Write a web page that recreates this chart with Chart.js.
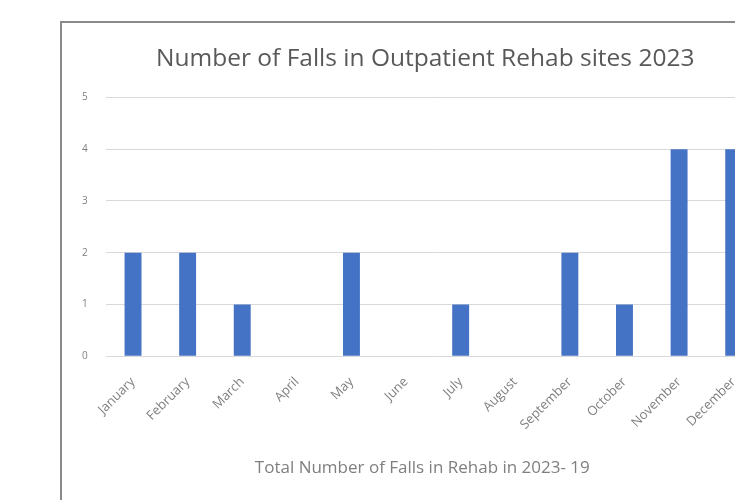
<!DOCTYPE html>
<html>
<head>
<meta charset="utf-8">
<script src="https://cdn.jsdelivr.net/npm/chart.js@4"></script>
<style>
  body { margin: 0; background: #fff; overflow: hidden; width: 735px; height: 500px; }
  #frame {
    position: absolute; left: 60px; top: 21px;
    width: 730px; height: 490px;
    border: 2px solid #8a8a8a; background: #fff;
  }
  #wrap { position: relative; width: 730px; height: 490px; }
</style>
</head>
<body>
<div id="frame"><div id="wrap"><canvas id="fallsChart"></canvas></div></div>
<script>
const months = ['January', 'February', 'March', 'April', 'May', 'June',
    'July', 'August', 'September', 'October', 'November', 'December'];
const falls = [2, 2, 1, 0, 2, 0, 1, 0, 2, 1, 4, 4];
const yTicks = [0, 1, 2, 3, 4, 5];

const ctx = document.getElementById('fallsChart');

// leading / trailing spaces nudge the centred titles to where the original sits
new Chart(ctx, {
    type: 'bar',
    data: {
        labels: months,
        datasets: [{
            label: 'Falls',
            data: falls,
            backgroundColor: '#4472C4',
            borderWidth: 0,
            barPercentage: 0.31,
            categoryPercentage: 1
        }]
    },
    options: {
        responsive: true,
        maintainAspectRatio: false,
        animation: false,
        layout: {
            padding: { top: 21, right: 31, bottom: 31, left: 2 }
        },
        plugins: {
            legend: { display: false },
            tooltip: { enabled: false },
            title: {
                display: true,
                text: '    Number of Falls in Outpatient Rehab sites 2023',
                color: '#595959',
                font: { family: 'Open Sans', size: 24.5, weight: 'normal' },
                padding: { top: 0, bottom: 24 }
            }
        },
        scales: {
            x: {
                grid: { display: false },
                border: { display: false },
                ticks: {
                    color: '#7f7f7f',
                    font: { family: 'Open Sans', size: 13 },
                    minRotation: 45,
                    maxRotation: 45,
                    padding: 10
                },
                title: {
                    display: true,
                    text: 'Total Number of Falls in Rehab in 2023- 19     ',
                    color: '#7f7f7f',
                    font: { family: 'Open Sans', size: 17 },
                    padding: { top: 15 }
                }
            },
            y: {
                min: 0,
                max: 5,
                afterBuildTicks: (axis) => {
                    axis.ticks = yTicks.map(v => ({ value: v }));
                },
                grid: { color: '#d9d9d9', drawTicks: false },
                border: { display: false },
                ticks: {
                    color: '#7f7f7f',
                    font: { family: 'Open Sans', size: 10 },
                    padding: 18
                }
            }
        }
    }
});
</script>
</body>
</html>
